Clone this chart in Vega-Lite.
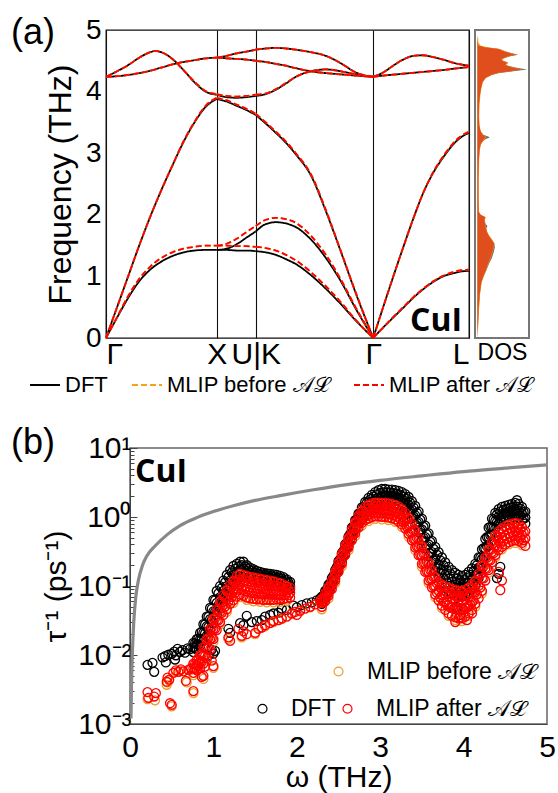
{
  "$schema": "https://vega.github.io/schema/vega-lite/v6.json",
  "padding": {"left": 10, "top": 14, "right": 4, "bottom": 2},
  "config": {
    "font": "Liberation Sans",
    "view": {"stroke": null},
    "axis": {"labelFont": "Liberation Sans", "titleFont": "Liberation Sans", "titleFontWeight": "normal", "labelColor": "#000", "titleColor": "#000", "domainColor": "#444", "tickColor": "#444", "grid": false},
    "legend": {"labelFont": "Liberation Sans", "labelColor": "#000", "labelLimit": 400}
  },
  "datasets": {
    "bands": [
      {"s":1,"r":"ta","k":0,"d":0,"b":0,"a":0},
      {"s":1,"r":"ta","k":0.1,"d":0.33,"b":0.34,"a":0.34},
      {"s":1,"r":"ta","k":0.2,"d":0.65,"b":0.68,"a":0.68},
      {"s":1,"r":"ta","k":0.3,"d":0.92,"b":0.96,"a":0.96},
      {"s":1,"r":"ta","k":0.4,"d":1.11,"b":1.16,"a":1.16},
      {"s":1,"r":"ta","k":0.5,"d":1.24,"b":1.3,"a":1.3},
      {"s":1,"r":"ta","k":0.6,"d":1.33,"b":1.39,"a":1.39},
      {"s":1,"r":"ta","k":0.7,"d":1.39,"b":1.45,"a":1.45},
      {"s":1,"r":"ta","k":0.8,"d":1.42,"b":1.48,"a":1.48},
      {"s":1,"r":"ta","k":0.9,"d":1.43,"b":1.5,"a":1.5},
      {"s":1,"r":"ta","k":1,"d":1.43,"b":1.5,"a":1.5},
      {"s":1,"r":"la","k":0,"d":0,"b":0,"a":0},
      {"s":1,"r":"la","k":0.1,"d":0.5,"b":0.5,"a":0.5},
      {"s":1,"r":"la","k":0.2,"d":1.0,"b":1.0,"a":1.0},
      {"s":1,"r":"la","k":0.3,"d":1.5,"b":1.5,"a":1.5},
      {"s":1,"r":"la","k":0.4,"d":1.97,"b":1.97,"a":1.97},
      {"s":1,"r":"la","k":0.5,"d":2.4,"b":2.4,"a":2.4},
      {"s":1,"r":"la","k":0.6,"d":2.8,"b":2.8,"a":2.8},
      {"s":1,"r":"la","k":0.7,"d":3.18,"b":3.19,"a":3.19},
      {"s":1,"r":"la","k":0.8,"d":3.5,"b":3.51,"a":3.51},
      {"s":1,"r":"la","k":0.9,"d":3.75,"b":3.77,"a":3.77},
      {"s":1,"r":"la","k":1,"d":3.88,"b":3.9,"a":3.9},
      {"s":1,"r":"to","k":0,"d":4.24,"b":4.24,"a":4.24},
      {"s":1,"r":"to","k":0.1,"d":4.25,"b":4.25,"a":4.25},
      {"s":1,"r":"to","k":0.2,"d":4.27,"b":4.27,"a":4.27},
      {"s":1,"r":"to","k":0.3,"d":4.3,"b":4.3,"a":4.3},
      {"s":1,"r":"to","k":0.4,"d":4.34,"b":4.34,"a":4.34},
      {"s":1,"r":"to","k":0.5,"d":4.39,"b":4.39,"a":4.39},
      {"s":1,"r":"to","k":0.6,"d":4.44,"b":4.44,"a":4.44},
      {"s":1,"r":"to","k":0.7,"d":4.48,"b":4.48,"a":4.48},
      {"s":1,"r":"to","k":0.8,"d":4.51,"b":4.51,"a":4.51},
      {"s":1,"r":"to","k":0.9,"d":4.54,"b":4.54,"a":4.54},
      {"s":1,"r":"to","k":1,"d":4.55,"b":4.55,"a":4.55},
      {"s":1,"r":"lo","k":0,"d":4.24,"b":4.24,"a":4.24},
      {"s":1,"r":"lo","k":0.1,"d":4.33,"b":4.33,"a":4.33},
      {"s":1,"r":"lo","k":0.2,"d":4.43,"b":4.43,"a":4.43},
      {"s":1,"r":"lo","k":0.3,"d":4.55,"b":4.55,"a":4.55},
      {"s":1,"r":"lo","k":0.4,"d":4.64,"b":4.64,"a":4.64},
      {"s":1,"r":"lo","k":0.45,"d":4.66,"b":4.66,"a":4.66},
      {"s":1,"r":"lo","k":0.5,"d":4.64,"b":4.64,"a":4.64},
      {"s":1,"r":"lo","k":0.6,"d":4.53,"b":4.53,"a":4.53},
      {"s":1,"r":"lo","k":0.7,"d":4.35,"b":4.35,"a":4.35},
      {"s":1,"r":"lo","k":0.8,"d":4.15,"b":4.16,"a":4.16},
      {"s":1,"r":"lo","k":0.9,"d":4.0,"b":4.01,"a":4.01},
      {"s":1,"r":"lo","k":1,"d":3.95,"b":3.96,"a":3.96},
      {"s":2,"r":"t1","k":1,"d":1.43,"b":1.5,"a":1.5},
      {"s":2,"r":"t1","k":1.09,"d":1.43,"b":1.5,"a":1.5},
      {"s":2,"r":"t1","k":1.18,"d":1.42,"b":1.49,"a":1.49},
      {"s":2,"r":"t1","k":1.27,"d":1.42,"b":1.49,"a":1.49},
      {"s":2,"r":"t1","k":1.354,"d":1.41,"b":1.48,"a":1.48},
      {"s":2,"r":"t2","k":1,"d":1.43,"b":1.5,"a":1.5},
      {"s":2,"r":"t2","k":1.09,"d":1.45,"b":1.53,"a":1.53},
      {"s":2,"r":"t2","k":1.18,"d":1.52,"b":1.61,"a":1.61},
      {"s":2,"r":"t2","k":1.27,"d":1.63,"b":1.72,"a":1.72},
      {"s":2,"r":"t2","k":1.354,"d":1.73,"b":1.82,"a":1.82},
      {"s":2,"r":"la","k":1,"d":3.88,"b":3.9,"a":3.9},
      {"s":2,"r":"la","k":1.09,"d":3.84,"b":3.86,"a":3.86},
      {"s":2,"r":"la","k":1.18,"d":3.77,"b":3.79,"a":3.79},
      {"s":2,"r":"la","k":1.27,"d":3.7,"b":3.72,"a":3.72},
      {"s":2,"r":"la","k":1.354,"d":3.62,"b":3.64,"a":3.64},
      {"s":2,"r":"lo","k":1,"d":3.95,"b":3.96,"a":3.96},
      {"s":2,"r":"lo","k":1.09,"d":3.91,"b":3.93,"a":3.93},
      {"s":2,"r":"lo","k":1.18,"d":3.9,"b":3.92,"a":3.92},
      {"s":2,"r":"lo","k":1.27,"d":3.91,"b":3.93,"a":3.93},
      {"s":2,"r":"lo","k":1.354,"d":3.93,"b":3.95,"a":3.95},
      {"s":2,"r":"o1","k":1,"d":4.55,"b":4.55,"a":4.55},
      {"s":2,"r":"o1","k":1.09,"d":4.54,"b":4.54,"a":4.54},
      {"s":2,"r":"o1","k":1.18,"d":4.53,"b":4.53,"a":4.53},
      {"s":2,"r":"o1","k":1.27,"d":4.52,"b":4.52,"a":4.52},
      {"s":2,"r":"o1","k":1.354,"d":4.5,"b":4.5,"a":4.5},
      {"s":2,"r":"o2","k":1,"d":4.55,"b":4.55,"a":4.55},
      {"s":2,"r":"o2","k":1.09,"d":4.58,"b":4.58,"a":4.58},
      {"s":2,"r":"o2","k":1.18,"d":4.62,"b":4.62,"a":4.62},
      {"s":2,"r":"o2","k":1.27,"d":4.65,"b":4.65,"a":4.65},
      {"s":2,"r":"o2","k":1.354,"d":4.68,"b":4.68,"a":4.68},
      {"s":3,"r":"t2","k":1.354,"d":1.73,"b":1.82,"a":1.82},
      {"s":3,"r":"t2","k":1.445,"d":1.85,"b":1.92,"a":1.92},
      {"s":3,"r":"t2","k":1.535,"d":1.88,"b":1.95,"a":1.95},
      {"s":3,"r":"t2","k":1.626,"d":1.86,"b":1.93,"a":1.93},
      {"s":3,"r":"t2","k":1.716,"d":1.8,"b":1.87,"a":1.87},
      {"s":3,"r":"t2","k":1.852,"d":1.6,"b":1.66,"a":1.66},
      {"s":3,"r":"t2","k":1.987,"d":1.3,"b":1.35,"a":1.35},
      {"s":3,"r":"t2","k":2.123,"d":0.92,"b":0.95,"a":0.95},
      {"s":3,"r":"t2","k":2.259,"d":0.47,"b":0.49,"a":0.49},
      {"s":3,"r":"t2","k":2.415,"d":0,"b":0,"a":0},
      {"s":3,"r":"t1","k":1.354,"d":1.41,"b":1.48,"a":1.48},
      {"s":3,"r":"t1","k":1.445,"d":1.39,"b":1.46,"a":1.46},
      {"s":3,"r":"t1","k":1.535,"d":1.35,"b":1.42,"a":1.42},
      {"s":3,"r":"t1","k":1.626,"d":1.28,"b":1.35,"a":1.35},
      {"s":3,"r":"t1","k":1.716,"d":1.2,"b":1.26,"a":1.26},
      {"s":3,"r":"t1","k":1.852,"d":1.02,"b":1.07,"a":1.07},
      {"s":3,"r":"t1","k":1.987,"d":0.8,"b":0.84,"a":0.84},
      {"s":3,"r":"t1","k":2.123,"d":0.55,"b":0.58,"a":0.58},
      {"s":3,"r":"t1","k":2.259,"d":0.28,"b":0.29,"a":0.29},
      {"s":3,"r":"t1","k":2.415,"d":0,"b":0,"a":0},
      {"s":3,"r":"la","k":1.354,"d":3.62,"b":3.64,"a":3.64},
      {"s":3,"r":"la","k":1.445,"d":3.48,"b":3.5,"a":3.5},
      {"s":3,"r":"la","k":1.535,"d":3.33,"b":3.35,"a":3.35},
      {"s":3,"r":"la","k":1.626,"d":3.17,"b":3.19,"a":3.19},
      {"s":3,"r":"la","k":1.716,"d":2.98,"b":3.0,"a":3.0},
      {"s":3,"r":"la","k":1.852,"d":2.64,"b":2.66,"a":2.66},
      {"s":3,"r":"la","k":1.987,"d":2.06,"b":2.08,"a":2.08},
      {"s":3,"r":"la","k":2.123,"d":1.4,"b":1.41,"a":1.41},
      {"s":3,"r":"la","k":2.259,"d":0.72,"b":0.73,"a":0.73},
      {"s":3,"r":"la","k":2.415,"d":0,"b":0,"a":0},
      {"s":3,"r":"lo","k":1.354,"d":3.93,"b":3.95,"a":3.95},
      {"s":3,"r":"lo","k":1.445,"d":3.96,"b":3.97,"a":3.97},
      {"s":3,"r":"lo","k":1.535,"d":4.03,"b":4.04,"a":4.04},
      {"s":3,"r":"lo","k":1.626,"d":4.13,"b":4.14,"a":4.14},
      {"s":3,"r":"lo","k":1.716,"d":4.24,"b":4.24,"a":4.24},
      {"s":3,"r":"lo","k":1.852,"d":4.33,"b":4.33,"a":4.33},
      {"s":3,"r":"lo","k":1.987,"d":4.36,"b":4.36,"a":4.36},
      {"s":3,"r":"lo","k":2.123,"d":4.33,"b":4.33,"a":4.33},
      {"s":3,"r":"lo","k":2.259,"d":4.28,"b":4.28,"a":4.28},
      {"s":3,"r":"lo","k":2.415,"d":4.24,"b":4.24,"a":4.24},
      {"s":3,"r":"o1","k":1.354,"d":4.5,"b":4.5,"a":4.5},
      {"s":3,"r":"o1","k":1.445,"d":4.48,"b":4.48,"a":4.48},
      {"s":3,"r":"o1","k":1.535,"d":4.45,"b":4.45,"a":4.45},
      {"s":3,"r":"o1","k":1.626,"d":4.42,"b":4.42,"a":4.42},
      {"s":3,"r":"o1","k":1.716,"d":4.38,"b":4.38,"a":4.38},
      {"s":3,"r":"o1","k":1.852,"d":4.33,"b":4.33,"a":4.33},
      {"s":3,"r":"o1","k":1.987,"d":4.3,"b":4.3,"a":4.3},
      {"s":3,"r":"o1","k":2.123,"d":4.28,"b":4.28,"a":4.28},
      {"s":3,"r":"o1","k":2.259,"d":4.26,"b":4.26,"a":4.26},
      {"s":3,"r":"o1","k":2.415,"d":4.24,"b":4.24,"a":4.24},
      {"s":3,"r":"o2","k":1.354,"d":4.68,"b":4.68,"a":4.68},
      {"s":3,"r":"o2","k":1.445,"d":4.7,"b":4.7,"a":4.7},
      {"s":3,"r":"o2","k":1.535,"d":4.71,"b":4.71,"a":4.71},
      {"s":3,"r":"o2","k":1.626,"d":4.7,"b":4.7,"a":4.7},
      {"s":3,"r":"o2","k":1.716,"d":4.68,"b":4.68,"a":4.68},
      {"s":3,"r":"o2","k":1.852,"d":4.64,"b":4.64,"a":4.64},
      {"s":3,"r":"o2","k":1.987,"d":4.58,"b":4.58,"a":4.58},
      {"s":3,"r":"o2","k":2.123,"d":4.46,"b":4.46,"a":4.46},
      {"s":3,"r":"o2","k":2.259,"d":4.31,"b":4.31,"a":4.31},
      {"s":3,"r":"o2","k":2.415,"d":4.24,"b":4.24,"a":4.24},
      {"s":4,"r":"ta","k":2.415,"d":0,"b":0,"a":0},
      {"s":4,"r":"ta","k":2.505,"d":0.17,"b":0.17,"a":0.17},
      {"s":4,"r":"ta","k":2.595,"d":0.33,"b":0.34,"a":0.34},
      {"s":4,"r":"ta","k":2.686,"d":0.49,"b":0.5,"a":0.5},
      {"s":4,"r":"ta","k":2.776,"d":0.65,"b":0.66,"a":0.66},
      {"s":4,"r":"ta","k":2.866,"d":0.79,"b":0.8,"a":0.8},
      {"s":4,"r":"ta","k":2.957,"d":0.91,"b":0.92,"a":0.92},
      {"s":4,"r":"ta","k":3.047,"d":1.0,"b":1.01,"a":1.01},
      {"s":4,"r":"ta","k":3.137,"d":1.05,"b":1.07,"a":1.07},
      {"s":4,"r":"ta","k":3.21,"d":1.08,"b":1.1,"a":1.1},
      {"s":4,"r":"ta","k":3.281,"d":1.09,"b":1.11,"a":1.11},
      {"s":4,"r":"la","k":2.415,"d":0,"b":0,"a":0},
      {"s":4,"r":"la","k":2.505,"d":0.5,"b":0.5,"a":0.5},
      {"s":4,"r":"la","k":2.595,"d":0.99,"b":0.99,"a":0.99},
      {"s":4,"r":"la","k":2.686,"d":1.47,"b":1.47,"a":1.47},
      {"s":4,"r":"la","k":2.776,"d":1.93,"b":1.93,"a":1.93},
      {"s":4,"r":"la","k":2.866,"d":2.35,"b":2.35,"a":2.35},
      {"s":4,"r":"la","k":2.957,"d":2.68,"b":2.69,"a":2.69},
      {"s":4,"r":"la","k":3.047,"d":2.93,"b":2.95,"a":2.95},
      {"s":4,"r":"la","k":3.137,"d":3.14,"b":3.16,"a":3.16},
      {"s":4,"r":"la","k":3.21,"d":3.26,"b":3.28,"a":3.28},
      {"s":4,"r":"la","k":3.281,"d":3.33,"b":3.35,"a":3.35},
      {"s":4,"r":"to","k":2.415,"d":4.24,"b":4.24,"a":4.24},
      {"s":4,"r":"to","k":2.505,"d":4.26,"b":4.26,"a":4.26},
      {"s":4,"r":"to","k":2.595,"d":4.275,"b":4.275,"a":4.275},
      {"s":4,"r":"to","k":2.686,"d":4.29,"b":4.29,"a":4.29},
      {"s":4,"r":"to","k":2.776,"d":4.305,"b":4.305,"a":4.305},
      {"s":4,"r":"to","k":2.866,"d":4.32,"b":4.32,"a":4.32},
      {"s":4,"r":"to","k":2.957,"d":4.335,"b":4.335,"a":4.335},
      {"s":4,"r":"to","k":3.047,"d":4.35,"b":4.35,"a":4.35},
      {"s":4,"r":"to","k":3.137,"d":4.37,"b":4.37,"a":4.37},
      {"s":4,"r":"to","k":3.21,"d":4.385,"b":4.385,"a":4.385},
      {"s":4,"r":"to","k":3.281,"d":4.4,"b":4.4,"a":4.4},
      {"s":4,"r":"lo","k":2.415,"d":4.24,"b":4.24,"a":4.24},
      {"s":4,"r":"lo","k":2.505,"d":4.31,"b":4.31,"a":4.31},
      {"s":4,"r":"lo","k":2.595,"d":4.42,"b":4.42,"a":4.42},
      {"s":4,"r":"lo","k":2.686,"d":4.52,"b":4.52,"a":4.52},
      {"s":4,"r":"lo","k":2.776,"d":4.58,"b":4.58,"a":4.58},
      {"s":4,"r":"lo","k":2.866,"d":4.59,"b":4.59,"a":4.59},
      {"s":4,"r":"lo","k":2.957,"d":4.56,"b":4.56,"a":4.56},
      {"s":4,"r":"lo","k":3.047,"d":4.52,"b":4.52,"a":4.52},
      {"s":4,"r":"lo","k":3.137,"d":4.47,"b":4.47,"a":4.47},
      {"s":4,"r":"lo","k":3.21,"d":4.44,"b":4.44,"a":4.44},
      {"s":4,"r":"lo","k":3.281,"d":4.42,"b":4.42,"a":4.42}
    ],
    "dos": [
      {"f":0,"d":0,"b":0,"a":0},{"f":0.2,"d":0.5,"b":0.9,"a":0.4},{"f":0.45,"d":1.3,"b":1.6,"a":1.1},{"f":0.7,"d":2.3,"b":2.5,"a":2.1},
      {"f":0.9,"d":4,"b":4.2,"a":3.8},{"f":1.0,"d":6.2,"b":6.2,"a":5.8},{"f":1.1,"d":9,"b":8.8,"a":8.4},{"f":1.2,"d":11.5,"b":11,"a":10.5},
      {"f":1.3,"d":14.5,"b":13.5,"a":13},{"f":1.4,"d":16.5,"b":15.5,"a":15},{"f":1.47,"d":17.5,"b":16.8,"a":16.3},{"f":1.54,"d":17,"b":17,"a":16.6},
      {"f":1.6,"d":14,"b":15,"a":14},{"f":1.66,"d":11,"b":12,"a":11.5},{"f":1.72,"d":9.5,"b":10,"a":9.6},{"f":1.78,"d":9,"b":8.8,"a":8.3},
      {"f":1.82,"d":10,"b":8.6,"a":8},{"f":1.86,"d":8,"b":8,"a":7.5},{"f":1.92,"d":7,"b":7.4,"a":7},{"f":1.96,"d":7.5,"b":8.4,"a":8},
      {"f":2.0,"d":3,"b":3.5,"a":3},{"f":2.05,"d":1.2,"b":1.6,"a":1.2},{"f":2.3,"d":0.9,"b":1.4,"a":0.9},{"f":2.6,"d":0.9,"b":1.4,"a":0.9},
      {"f":2.9,"d":1.4,"b":1.8,"a":1.4},{"f":3.05,"d":2,"b":2.4,"a":2},{"f":3.15,"d":3.5,"b":3.6,"a":3.2},{"f":3.22,"d":7,"b":6.5,"a":6},
      {"f":3.26,"d":12.5,"b":9.5,"a":8.5},{"f":3.3,"d":6,"b":5.5,"a":5},{"f":3.36,"d":3,"b":3.3,"a":3},{"f":3.45,"d":1.8,"b":2.2,"a":1.8},
      {"f":3.6,"d":1.3,"b":1.8,"a":1.3},{"f":3.8,"d":1.6,"b":2.2,"a":1.6},{"f":3.95,"d":2.5,"b":3,"a":2.5},{"f":4.05,"d":3.5,"b":4,"a":3.5},
      {"f":4.15,"d":5,"b":5.5,"a":5},{"f":4.22,"d":8,"b":8.5,"a":8},{"f":4.27,"d":14,"b":14.5,"a":14},{"f":4.3,"d":22,"b":21,"a":20},
      {"f":4.33,"d":36,"b":34,"a":33},{"f":4.36,"d":50,"b":46,"a":45},{"f":4.39,"d":38,"b":36,"a":35},{"f":4.43,"d":28,"b":29,"a":28},
      {"f":4.47,"d":31,"b":31,"a":30},{"f":4.5,"d":26,"b":26,"a":25},{"f":4.53,"d":25,"b":25,"a":24},{"f":4.57,"d":32,"b":31,"a":30},
      {"f":4.6,"d":41,"b":40,"a":39},{"f":4.63,"d":33,"b":32,"a":31},{"f":4.66,"d":27,"b":27,"a":26},{"f":4.69,"d":22,"b":23,"a":21},
      {"f":4.72,"d":8,"b":10,"a":7},{"f":4.75,"d":1,"b":3,"a":0.8},{"f":4.8,"d":0.5,"b":1,"a":0.3},{"f":4.9,"d":0,"b":0.5,"a":0}
    ],
    "ref": [
      {"w":0.012,"t":0.0012},{"w":0.02,"t":0.005},{"w":0.03,"t":0.012},{"w":0.045,"t":0.03},{"w":0.07,"t":0.07},{"w":0.1,"t":0.12},
      {"w":0.15,"t":0.2},{"w":0.2,"t":0.27},{"w":0.3,"t":0.38},{"w":0.45,"t":0.56},{"w":0.6,"t":0.75},{"w":0.8,"t":0.98},
      {"w":1.0,"t":1.2},{"w":1.25,"t":1.47},{"w":1.5,"t":1.74},{"w":1.8,"t":2.04},{"w":2.2,"t":2.48},
      {"w":2.6,"t":2.95},{"w":3.0,"t":3.4},{"w":3.5,"t":3.95},{"w":4.0,"t":4.55},{"w":4.5,"t":5.1},{"w":5.0,"t":5.7}
    ],
    "dft": [
      {"w":0.21,"t":0.0072},{"w":0.27,"t":0.0077},{"w":0.29,"t":0.0057},{"w":0.39,"t":0.0092},{"w":0.42,"t":0.0096},{"w":0.43,"t":0.0078},
      {"w":0.46,"t":0.0101},{"w":0.5,"t":0.0104},{"w":0.53,"t":0.0112},{"w":0.54,"t":0.0086},{"w":0.55,"t":0.0099},{"w":0.57,"t":0.0123},
      {"w":0.6,"t":0.0111},{"w":0.63,"t":0.0118},{"w":0.66,"t":0.0108},{"w":0.69,"t":0.0125},{"w":0.72,"t":0.0122},
      {"w":0.76,"t":0.015},{"w":0.76,"t":0.013},{"w":0.76,"t":0.011},{"w":0.78,"t":0.0148},{"w":0.78,"t":0.0126},
      {"w":0.8,"t":0.017},{"w":0.8,"t":0.0143},{"w":0.8,"t":0.012},{"w":0.82,"t":0.0173},{"w":0.82,"t":0.0142},
      {"w":0.84,"t":0.021},{"w":0.84,"t":0.017},{"w":0.84,"t":0.0135},{"w":0.86,"t":0.0218},{"w":0.86,"t":0.0169},
      {"w":0.88,"t":0.028},{"w":0.88,"t":0.021},{"w":0.88,"t":0.016},{"w":0.9,"t":0.0278},{"w":0.9,"t":0.0205},
      {"w":0.92,"t":0.036},{"w":0.92,"t":0.026},{"w":0.92,"t":0.019},{"w":0.94,"t":0.0357},{"w":0.94,"t":0.0253},
      {"w":0.96,"t":0.048},{"w":0.96,"t":0.033},{"w":0.96,"t":0.023},{"w":0.98,"t":0.0468},{"w":0.98,"t":0.032},
      {"w":1.0,"t":0.063},{"w":1.0,"t":0.043},{"w":1.0,"t":0.029},{"w":1.02,"t":0.062},{"w":1.02,"t":0.042},
      {"w":1.04,"t":0.085},{"w":1.04,"t":0.057},{"w":1.04,"t":0.038},{"w":1.06,"t":0.078},{"w":1.06,"t":0.053},
      {"w":1.08,"t":0.1},{"w":1.08,"t":0.069},{"w":1.08,"t":0.048},{"w":1.1,"t":0.0935},{"w":1.1,"t":0.0655},
      {"w":1.12,"t":0.12},{"w":1.12,"t":0.085},{"w":1.12,"t":0.06},{"w":1.14,"t":0.1125},{"w":1.14,"t":0.079},
      {"w":1.16,"t":0.145},{"w":1.16,"t":0.1},{"w":1.16,"t":0.072},{"w":1.18,"t":0.134},{"w":1.18,"t":0.095},
      {"w":1.2,"t":0.17},{"w":1.2,"t":0.12},{"w":1.2,"t":0.088},{"w":1.22,"t":0.157},{"w":1.22,"t":0.114},
      {"w":1.24,"t":0.195},{"w":1.24,"t":0.143},{"w":1.24,"t":0.105},{"w":1.26,"t":0.177},{"w":1.26,"t":0.132},
      {"w":1.28,"t":0.21},{"w":1.28,"t":0.16},{"w":1.28,"t":0.12},{"w":1.3,"t":0.1925},{"w":1.3,"t":0.1475},
      {"w":1.32,"t":0.225},{"w":1.32,"t":0.175},{"w":1.32,"t":0.135},{"w":1.34,"t":0.2},{"w":1.34,"t":0.157},
      {"w":1.36,"t":0.225},{"w":1.36,"t":0.178},{"w":1.36,"t":0.14},{"w":1.38,"t":0.192},{"w":1.38,"t":0.1545},
      {"w":1.4,"t":0.2},{"w":1.4,"t":0.165},{"w":1.4,"t":0.135},{"w":1.42,"t":0.176},{"w":1.42,"t":0.146},
      {"w":1.44,"t":0.185},{"w":1.44,"t":0.155},{"w":1.44,"t":0.13},{"w":1.46,"t":0.166},{"w":1.46,"t":0.1395},
      {"w":1.48,"t":0.175},{"w":1.48,"t":0.148},{"w":1.48,"t":0.125},{"w":1.5,"t":0.157},{"w":1.5,"t":0.133},
      {"w":1.52,"t":0.165},{"w":1.52,"t":0.14},{"w":1.52,"t":0.12},{"w":1.54,"t":0.151},{"w":1.54,"t":0.1295},
      {"w":1.56,"t":0.16},{"w":1.56,"t":0.138},{"w":1.56,"t":0.12},{"w":1.58,"t":0.147},{"w":1.58,"t":0.128},
      {"w":1.6,"t":0.155},{"w":1.6,"t":0.135},{"w":1.6,"t":0.118},{"w":1.62,"t":0.1435},{"w":1.62,"t":0.125},
      {"w":1.64,"t":0.152},{"w":1.64,"t":0.132},{"w":1.64,"t":0.115},{"w":1.66,"t":0.141},{"w":1.66,"t":0.1225},
      {"w":1.68,"t":0.15},{"w":1.68,"t":0.13},{"w":1.68,"t":0.113},{"w":1.7,"t":0.139},{"w":1.7,"t":0.12},
      {"w":1.72,"t":0.148},{"w":1.72,"t":0.128},{"w":1.72,"t":0.11},{"w":1.74,"t":0.137},{"w":1.74,"t":0.1185},
      {"w":1.76,"t":0.145},{"w":1.76,"t":0.126},{"w":1.76,"t":0.11},{"w":1.78,"t":0.133},{"w":1.78,"t":0.115},
      {"w":1.8,"t":0.14},{"w":1.8,"t":0.12},{"w":1.8,"t":0.105},{"w":1.82,"t":0.128},{"w":1.82,"t":0.11},
      {"w":1.84,"t":0.135},{"w":1.84,"t":0.116},{"w":1.84,"t":0.1},{"w":1.86,"t":0.1215},{"w":1.86,"t":0.105},
      {"w":1.88,"t":0.125},{"w":1.88,"t":0.11},{"w":1.88,"t":0.095},{"w":1.9,"t":0.1125},{"w":1.9,"t":0.099},
      {"w":1.92,"t":0.115},{"w":1.92,"t":0.1},{"w":1.92,"t":0.09},
      {"w":0.94,"t":0.0098},{"w":0.98,"t":0.012},{"w":1.0,"t":0.0105},{"w":1.02,"t":0.0115},{"w":1.18,"t":0.024},{"w":1.2,"t":0.021},
      {"w":1.32,"t":0.029},{"w":1.36,"t":0.027},{"w":1.4,"t":0.037},{"w":1.46,"t":0.03},{"w":1.52,"t":0.031},{"w":1.58,"t":0.032},
      {"w":1.62,"t":0.036},{"w":1.68,"t":0.038},{"w":1.72,"t":0.04},{"w":1.78,"t":0.041},{"w":1.82,"t":0.047},{"w":1.88,"t":0.045},
      {"w":1.96,"t":0.052},{"w":2.0,"t":0.049},{"w":2.06,"t":0.053},{"w":2.12,"t":0.056},{"w":2.18,"t":0.058},{"w":2.24,"t":0.062},{"w":2.28,"t":0.066},
      {"w":2.3,"t":0.07},{"w":2.3,"t":0.062},{"w":2.3,"t":0.055},{"w":2.32,"t":0.0728},{"w":2.32,"t":0.064},
      {"w":2.34,"t":0.085},{"w":2.34,"t":0.074},{"w":2.34,"t":0.065},{"w":2.36,"t":0.089},{"w":2.36,"t":0.0778},
      {"w":2.38,"t":0.105},{"w":2.38,"t":0.092},{"w":2.38,"t":0.08},{"w":2.4,"t":0.11},{"w":2.4,"t":0.0965},
      {"w":2.42,"t":0.13},{"w":2.42,"t":0.114},{"w":2.42,"t":0.1},{"w":2.44,"t":0.141},{"w":2.44,"t":0.123},
      {"w":2.46,"t":0.17},{"w":2.46,"t":0.149},{"w":2.46,"t":0.13},{"w":2.48,"t":0.187},{"w":2.48,"t":0.162},
      {"w":2.5,"t":0.23},{"w":2.5,"t":0.198},{"w":2.5,"t":0.17},{"w":2.52,"t":0.246},{"w":2.52,"t":0.211},
      {"w":2.54,"t":0.3},{"w":2.54,"t":0.257},{"w":2.54,"t":0.22},{"w":2.56,"t":0.324},{"w":2.56,"t":0.277},
      {"w":2.58,"t":0.4},{"w":2.58,"t":0.34},{"w":2.58,"t":0.29},{"w":2.6,"t":0.426},{"w":2.6,"t":0.364},
      {"w":2.62,"t":0.52},{"w":2.62,"t":0.445},{"w":2.62,"t":0.38},{"w":2.64,"t":0.564},{"w":2.64,"t":0.479},
      {"w":2.66,"t":0.7},{"w":2.66,"t":0.59},{"w":2.66,"t":0.5},{"w":2.68,"t":0.739},{"w":2.68,"t":0.626},
      {"w":2.7,"t":0.9},{"w":2.7,"t":0.765},{"w":2.7,"t":0.65},{"w":2.72,"t":0.934},{"w":2.72,"t":0.791},
      {"w":2.74,"t":1.12},{"w":2.74,"t":0.95},{"w":2.74,"t":0.8},{"w":2.76,"t":1.149},{"w":2.76,"t":0.961},
      {"w":2.78,"t":1.38},{"w":2.78,"t":1.145},{"w":2.78,"t":0.95},{"w":2.8,"t":1.381},{"w":2.8,"t":1.136},
      {"w":2.82,"t":1.65},{"w":2.82,"t":1.35},{"w":2.82,"t":1.1},{"w":2.84,"t":1.61},{"w":2.84,"t":1.31},
      {"w":2.86,"t":1.9},{"w":2.86,"t":1.54},{"w":2.86,"t":1.25},{"w":2.88,"t":1.805},{"w":2.88,"t":1.455},
      {"w":2.9,"t":2.1},{"w":2.9,"t":1.68},{"w":2.9,"t":1.35},{"w":2.92,"t":1.978},{"w":2.92,"t":1.578},
      {"w":2.94,"t":2.3},{"w":2.94,"t":1.83},{"w":2.94,"t":1.45},{"w":2.96,"t":2.125},{"w":2.96,"t":1.675},
      {"w":2.98,"t":2.45},{"w":2.98,"t":1.92},{"w":2.98,"t":1.5},{"w":3.0,"t":2.228},{"w":3.0,"t":1.74},
      {"w":3.02,"t":2.55},{"w":3.02,"t":1.99},{"w":3.02,"t":1.55},{"w":3.04,"t":2.278},{"w":3.04,"t":1.79},
      {"w":3.06,"t":2.55},{"w":3.06,"t":2.02},{"w":3.06,"t":1.6},{"w":3.08,"t":2.268},{"w":3.08,"t":1.805},
      {"w":3.1,"t":2.5},{"w":3.1,"t":2.0},{"w":3.1,"t":1.6},{"w":3.12,"t":2.25},{"w":3.12,"t":1.8},
      {"w":3.14,"t":2.5},{"w":3.14,"t":2.0},{"w":3.14,"t":1.6},{"w":3.16,"t":2.225},{"w":3.16,"t":1.775},
      {"w":3.18,"t":2.45},{"w":3.18,"t":1.95},{"w":3.18,"t":1.55},{"w":3.2,"t":2.175},{"w":3.2,"t":1.725},
      {"w":3.22,"t":2.4},{"w":3.22,"t":1.9},{"w":3.22,"t":1.5},{"w":3.24,"t":2.108},{"w":3.24,"t":1.67},
      {"w":3.26,"t":2.3},{"w":3.26,"t":1.83},{"w":3.26,"t":1.45},{"w":3.28,"t":1.995},{"w":3.28,"t":1.583},
      {"w":3.3,"t":2.15},{"w":3.3,"t":1.7},{"w":3.3,"t":1.35},{"w":3.32,"t":1.825},{"w":3.32,"t":1.425},
      {"w":3.34,"t":1.95},{"w":3.34,"t":1.5},{"w":3.34,"t":1.15},{"w":3.36,"t":1.608},{"w":3.36,"t":1.223},
      {"w":3.38,"t":1.7},{"w":3.38,"t":1.28},{"w":3.38,"t":0.96},{"w":3.4,"t":1.373},{"w":3.4,"t":1.018},
      {"w":3.42,"t":1.45},{"w":3.42,"t":1.06},{"w":3.42,"t":0.77},{"w":3.44,"t":1.14},{"w":3.44,"t":0.82},
      {"w":3.46,"t":1.2},{"w":3.46,"t":0.85},{"w":3.46,"t":0.6},{"w":3.48,"t":0.915},{"w":3.48,"t":0.643},
      {"w":3.5,"t":0.95},{"w":3.5,"t":0.66},{"w":3.5,"t":0.46},{"w":3.52,"t":0.718},{"w":3.52,"t":0.495},
      {"w":3.54,"t":0.75},{"w":3.54,"t":0.51},{"w":3.54,"t":0.35},{"w":3.56,"t":0.56},{"w":3.56,"t":0.383},
      {"w":3.58,"t":0.58},{"w":3.58,"t":0.4},{"w":3.58,"t":0.27},{"w":3.6,"t":0.435},{"w":3.6,"t":0.298},
      {"w":3.62,"t":0.45},{"w":3.62,"t":0.31},{"w":3.62,"t":0.21},{"w":3.64,"t":0.345},{"w":3.64,"t":0.234},
      {"w":3.66,"t":0.37},{"w":3.66,"t":0.25},{"w":3.66,"t":0.165},{"w":3.68,"t":0.284},{"w":3.68,"t":0.189},
      {"w":3.7,"t":0.31},{"w":3.7,"t":0.205},{"w":3.7,"t":0.135},{"w":3.72,"t":0.236},{"w":3.72,"t":0.155},
      {"w":3.74,"t":0.26},{"w":3.74,"t":0.17},{"w":3.74,"t":0.11},{"w":3.76,"t":0.199},{"w":3.76,"t":0.13},
      {"w":3.78,"t":0.22},{"w":3.78,"t":0.145},{"w":3.78,"t":0.095},{"w":3.8,"t":0.171},{"w":3.8,"t":0.113},
      {"w":3.82,"t":0.19},{"w":3.82,"t":0.127},{"w":3.82,"t":0.085},{"w":3.84,"t":0.151},{"w":3.84,"t":0.101},
      {"w":3.86,"t":0.17},{"w":3.86,"t":0.115},{"w":3.86,"t":0.078},{"w":3.88,"t":0.137},{"w":3.88,"t":0.093},
      {"w":3.9,"t":0.155},{"w":3.9,"t":0.106},{"w":3.9,"t":0.073},{"w":3.92,"t":0.127},{"w":3.92,"t":0.087},
      {"w":3.94,"t":0.145},{"w":3.94,"t":0.1},{"w":3.94,"t":0.07},{"w":3.96,"t":0.121},{"w":3.96,"t":0.085},
      {"w":3.98,"t":0.14},{"w":3.98,"t":0.099},{"w":3.98,"t":0.07},{"w":4.0,"t":0.122},{"w":4.0,"t":0.086},
      {"w":4.02,"t":0.145},{"w":4.02,"t":0.102},{"w":4.02,"t":0.072},{"w":4.04,"t":0.13},{"w":4.04,"t":0.091},
      {"w":4.06,"t":0.16},{"w":4.06,"t":0.112},{"w":4.06,"t":0.078},{"w":4.08,"t":0.145},{"w":4.08,"t":0.101},
      {"w":4.1,"t":0.18},{"w":4.1,"t":0.126},{"w":4.1,"t":0.088},{"w":4.12,"t":0.165},{"w":4.12,"t":0.115},
      {"w":4.14,"t":0.21},{"w":4.14,"t":0.145},{"w":4.14,"t":0.1},{"w":4.16,"t":0.2},{"w":4.16,"t":0.14},
      {"w":4.18,"t":0.26},{"w":4.18,"t":0.184},{"w":4.18,"t":0.13},{"w":4.2,"t":0.258},{"w":4.2,"t":0.185},
      {"w":4.22,"t":0.34},{"w":4.22,"t":0.247},{"w":4.22,"t":0.18},{"w":4.24,"t":0.355},{"w":4.24,"t":0.26},
      {"w":4.26,"t":0.48},{"w":4.26,"t":0.353},{"w":4.26,"t":0.26},{"w":4.28,"t":0.512},{"w":4.28,"t":0.377},
      {"w":4.3,"t":0.7},{"w":4.3,"t":0.516},{"w":4.3,"t":0.38},{"w":4.32,"t":0.722},{"w":4.32,"t":0.542},
      {"w":4.34,"t":0.95},{"w":4.34,"t":0.72},{"w":4.34,"t":0.55},{"w":4.36,"t":0.925},{"w":4.36,"t":0.708},
      {"w":4.38,"t":1.15},{"w":4.38,"t":0.88},{"w":4.38,"t":0.68},{"w":4.4,"t":1.088},{"w":4.4,"t":0.845},
      {"w":4.42,"t":1.3},{"w":4.42,"t":1.02},{"w":4.42,"t":0.8},{"w":4.44,"t":1.208},{"w":4.44,"t":0.953},
      {"w":4.46,"t":1.4},{"w":4.46,"t":1.11},{"w":4.46,"t":0.88},{"w":4.48,"t":1.278},{"w":4.48,"t":1.015},
      {"w":4.5,"t":1.45},{"w":4.5,"t":1.15},{"w":4.5,"t":0.92},{"w":4.52,"t":1.323},{"w":4.52,"t":1.053},
      {"w":4.54,"t":1.5},{"w":4.54,"t":1.19},{"w":4.54,"t":0.95},{"w":4.56,"t":1.368},{"w":4.56,"t":1.088},
      {"w":4.58,"t":1.55},{"w":4.58,"t":1.23},{"w":4.58,"t":0.98},{"w":4.6,"t":1.41},{"w":4.6,"t":1.118},
      {"w":4.62,"t":1.6},{"w":4.62,"t":1.26},{"w":4.62,"t":1.0},{"w":4.64,"t":1.41},{"w":4.64,"t":1.118},
      {"w":4.66,"t":1.55},{"w":4.66,"t":1.23},{"w":4.66,"t":0.98},{"w":4.68,"t":1.325},{"w":4.68,"t":1.058},
      {"w":4.7,"t":1.4},{"w":4.7,"t":1.12},{"w":4.7,"t":0.9},{"w":4.72,"t":1.175},{"w":4.72,"t":0.95},
      {"w":4.74,"t":1.2},{"w":4.74,"t":0.98},{"w":4.74,"t":0.8},
      {"w":3.92,"t":0.05},{"w":3.96,"t":0.038},{"w":4.0,"t":0.045},{"w":4.4,"t":0.13},{"w":4.42,"t":0.15},{"w":4.44,"t":0.19},{"w":4.64,"t":1.75}
    ],
    "bef": [
      {"w":0.21,"t":0.0023},{"w":0.3,"t":0.0022},{"w":0.44,"t":0.0037},{"w":0.45,"t":0.004},{"w":0.5,"t":0.0018},{"w":0.47,"t":0.0043},
      {"w":0.55,"t":0.0057},{"w":0.68,"t":0.004},{"w":0.76,"t":0.0028},{"w":0.88,"t":0.0045},{"w":1.0,"t":0.0065},{"w":0.6,"t":0.0059},{"w":0.72,"t":0.006},
      {"w":0.76,"t":0.0074},{"w":0.76,"t":0.0051},{"w":0.84,"t":0.0098},{"w":0.84,"t":0.006},{"w":0.92,"t":0.0167},{"w":0.92,"t":0.0083},
      {"w":1.0,"t":0.033},{"w":1.0,"t":0.0156},{"w":1.08,"t":0.059},{"w":1.08,"t":0.028},{"w":1.16,"t":0.086},{"w":1.16,"t":0.042},
      {"w":1.24,"t":0.118},{"w":1.24,"t":0.057},{"w":1.32,"t":0.147},{"w":1.32,"t":0.069},{"w":1.4,"t":0.137},{"w":1.4,"t":0.063},
      {"w":1.48,"t":0.13},{"w":1.48,"t":0.06},{"w":1.56,"t":0.125},{"w":1.56,"t":0.059},{"w":1.64,"t":0.12},{"w":1.64,"t":0.058},
      {"w":1.72,"t":0.115},{"w":1.72,"t":0.058},{"w":1.8,"t":0.108},{"w":1.8,"t":0.059},{"w":1.88,"t":0.098},{"w":1.88,"t":0.061},
      {"w":1.18,"t":0.017},{"w":1.34,"t":0.018},{"w":1.5,"t":0.02},{"w":1.62,"t":0.026},{"w":1.72,"t":0.03},{"w":1.82,"t":0.033},
      {"w":1.94,"t":0.039},{"w":2.04,"t":0.043},{"w":2.16,"t":0.049},{"w":2.28,"t":0.058},
      {"w":2.3,"t":0.064},{"w":2.3,"t":0.046},{"w":2.38,"t":0.093},{"w":2.38,"t":0.066},{"w":2.46,"t":0.157},{"w":2.46,"t":0.11},
      {"w":2.54,"t":0.284},{"w":2.54,"t":0.193},{"w":2.62,"t":0.49},{"w":2.62,"t":0.33},{"w":2.7,"t":0.83},{"w":2.7,"t":0.53},
      {"w":2.78,"t":1.22},{"w":2.78,"t":0.75},{"w":2.86,"t":1.47},{"w":2.86,"t":0.87},{"w":2.94,"t":1.59},{"w":2.94,"t":0.94},
      {"w":3.02,"t":1.57},{"w":3.02,"t":0.92},{"w":3.1,"t":1.55},{"w":3.1,"t":0.9},{"w":3.18,"t":1.47},{"w":3.18,"t":0.85},
      {"w":3.26,"t":1.27},{"w":3.26,"t":0.72},{"w":3.34,"t":0.96},{"w":3.34,"t":0.52},{"w":3.42,"t":0.63},{"w":3.42,"t":0.33},
      {"w":3.5,"t":0.37},{"w":3.5,"t":0.19},{"w":3.58,"t":0.215},{"w":3.58,"t":0.11},{"w":3.66,"t":0.132},{"w":3.66,"t":0.069},
      {"w":3.74,"t":0.1},{"w":3.74,"t":0.048},{"w":3.82,"t":0.093},{"w":3.82,"t":0.037},{"w":3.9,"t":0.086},{"w":3.9,"t":0.032},
      {"w":3.98,"t":0.083},{"w":3.98,"t":0.031},{"w":4.06,"t":0.093},{"w":4.06,"t":0.037},{"w":4.14,"t":0.118},{"w":4.14,"t":0.05},
      {"w":4.22,"t":0.196},{"w":4.22,"t":0.078},{"w":4.3,"t":0.333},{"w":4.3,"t":0.156},{"w":4.38,"t":0.53},{"w":4.38,"t":0.26},
      {"w":4.46,"t":0.67},{"w":4.46,"t":0.34},{"w":4.54,"t":0.76},{"w":4.54,"t":0.4},{"w":4.62,"t":0.8},{"w":4.62,"t":0.42},
      {"w":4.7,"t":0.7},{"w":4.7,"t":0.39}
    ],
    "aft": [
      {"w":0.21,"t":0.0029},{"w":0.22,"t":0.0024},{"w":0.29,"t":0.0025},{"w":0.31,"t":0.0028},{"w":0.44,"t":0.0041},{"w":0.45,"t":0.0047},
      {"w":0.47,"t":0.0044},{"w":0.48,"t":0.002},{"w":0.5,"t":0.0019},{"w":0.52,"t":0.0055},{"w":0.55,"t":0.006},{"w":0.58,"t":0.0057},
      {"w":0.61,"t":0.0062},{"w":0.64,"t":0.0058},{"w":0.67,"t":0.0042},{"w":0.7,"t":0.0061},{"w":0.73,"t":0.0064},{"w":0.76,"t":0.003},
      {"w":0.86,"t":0.0048},{"w":0.88,"t":0.005},{"w":0.9,"t":0.0068},{"w":0.98,"t":0.0083},{"w":1.0,"t":0.0069},
      {"w":0.76,"t":0.0075},{"w":0.76,"t":0.0064},{"w":0.76,"t":0.0055},{"w":0.78,"t":0.0074},{"w":0.78,"t":0.0063},
      {"w":0.8,"t":0.0085},{"w":0.8,"t":0.0072},{"w":0.8,"t":0.006},{"w":0.82,"t":0.0084},{"w":0.82,"t":0.0069},
      {"w":0.84,"t":0.01},{"w":0.84,"t":0.008},{"w":0.84,"t":0.0065},{"w":0.86,"t":0.0102},{"w":0.86,"t":0.008},
      {"w":0.88,"t":0.013},{"w":0.88,"t":0.0098},{"w":0.88,"t":0.0075},{"w":0.9,"t":0.013},{"w":0.9,"t":0.0097},
      {"w":0.92,"t":0.017},{"w":0.92,"t":0.0124},{"w":0.92,"t":0.009},{"w":0.94,"t":0.0176},{"w":0.94,"t":0.0126},
      {"w":0.96,"t":0.024},{"w":0.96,"t":0.017},{"w":0.96,"t":0.012},{"w":0.98,"t":0.0248},{"w":0.98,"t":0.0175},
      {"w":1.0,"t":0.034},{"w":1.0,"t":0.024},{"w":1.0,"t":0.017},{"w":1.02,"t":0.034},{"w":1.02,"t":0.024},
      {"w":1.04,"t":0.046},{"w":1.04,"t":0.032},{"w":1.04,"t":0.023},{"w":1.06,"t":0.045},{"w":1.06,"t":0.0318},
      {"w":1.08,"t":0.06},{"w":1.08,"t":0.042},{"w":1.08,"t":0.03},{"w":1.1,"t":0.057},{"w":1.1,"t":0.0408},
      {"w":1.12,"t":0.074},{"w":1.12,"t":0.053},{"w":1.12,"t":0.038},{"w":1.14,"t":0.0698},{"w":1.14,"t":0.0503},
      {"w":1.16,"t":0.088},{"w":1.16,"t":0.064},{"w":1.16,"t":0.046},{"w":1.18,"t":0.0825},{"w":1.18,"t":0.06},
      {"w":1.2,"t":0.103},{"w":1.2,"t":0.075},{"w":1.2,"t":0.055},{"w":1.22,"t":0.096},{"w":1.22,"t":0.0695},
      {"w":1.24,"t":0.12},{"w":1.24,"t":0.086},{"w":1.24,"t":0.062},{"w":1.26,"t":0.1115},{"w":1.26,"t":0.0795},
      {"w":1.28,"t":0.14},{"w":1.28,"t":0.1},{"w":1.28,"t":0.07},{"w":1.3,"t":0.124},{"w":1.3,"t":0.0878},
      {"w":1.32,"t":0.15},{"w":1.32,"t":0.106},{"w":1.32,"t":0.075},{"w":1.34,"t":0.125},{"w":1.34,"t":0.0883},
      {"w":1.36,"t":0.145},{"w":1.36,"t":0.1},{"w":1.36,"t":0.072},{"w":1.38,"t":0.121},{"w":1.38,"t":0.0845},
      {"w":1.4,"t":0.14},{"w":1.4,"t":0.098},{"w":1.4,"t":0.068},{"w":1.42,"t":0.117},{"w":1.42,"t":0.0818},
      {"w":1.44,"t":0.136},{"w":1.44,"t":0.095},{"w":1.44,"t":0.066},{"w":1.46,"t":0.114},{"w":1.46,"t":0.0798},
      {"w":1.48,"t":0.133},{"w":1.48,"t":0.093},{"w":1.48,"t":0.065},{"w":1.5,"t":0.112},{"w":1.5,"t":0.078},
      {"w":1.52,"t":0.13},{"w":1.52,"t":0.091},{"w":1.52,"t":0.064},{"w":1.54,"t":0.11},{"w":1.54,"t":0.0773},
      {"w":1.56,"t":0.128},{"w":1.56,"t":0.09},{"w":1.56,"t":0.064},{"w":1.58,"t":0.108},{"w":1.58,"t":0.0765},
      {"w":1.6,"t":0.125},{"w":1.6,"t":0.089},{"w":1.6,"t":0.063},{"w":1.62,"t":0.106},{"w":1.62,"t":0.0758},
      {"w":1.64,"t":0.122},{"w":1.64,"t":0.088},{"w":1.64,"t":0.063},{"w":1.66,"t":0.104},{"w":1.66,"t":0.0753},
      {"w":1.68,"t":0.12},{"w":1.68,"t":0.087},{"w":1.68,"t":0.063},{"w":1.7,"t":0.1025},{"w":1.7,"t":0.0748},
      {"w":1.72,"t":0.117},{"w":1.72,"t":0.086},{"w":1.72,"t":0.063},{"w":1.74,"t":0.1003},{"w":1.74,"t":0.0745},
      {"w":1.76,"t":0.113},{"w":1.76,"t":0.085},{"w":1.76,"t":0.064},{"w":1.78,"t":0.098},{"w":1.78,"t":0.0743},
      {"w":1.8,"t":0.11},{"w":1.8,"t":0.084},{"w":1.8,"t":0.064},{"w":1.82,"t":0.0955},{"w":1.82,"t":0.074},
      {"w":1.84,"t":0.105},{"w":1.84,"t":0.083},{"w":1.84,"t":0.065},{"w":1.86,"t":0.0923},{"w":1.86,"t":0.0738},
      {"w":1.88,"t":0.1},{"w":1.88,"t":0.081},{"w":1.88,"t":0.066},{"w":1.9,"t":0.089},{"w":1.9,"t":0.0738},
      {"w":1.92,"t":0.095},{"w":1.92,"t":0.08},{"w":1.92,"t":0.068},
      {"w":1.18,"t":0.018},{"w":1.2,"t":0.016},{"w":1.3,"t":0.024},{"w":1.34,"t":0.019},{"w":1.36,"t":0.022},{"w":1.4,"t":0.02},
      {"w":1.5,"t":0.021},{"w":1.54,"t":0.024},{"w":1.58,"t":0.025},{"w":1.62,"t":0.027},{"w":1.68,"t":0.029},{"w":1.72,"t":0.031},
      {"w":1.78,"t":0.032},{"w":1.82,"t":0.034},{"w":1.88,"t":0.036},{"w":1.94,"t":0.04},{"w":1.98,"t":0.042},{"w":2.0,"t":0.038},
      {"w":2.04,"t":0.044},{"w":2.1,"t":0.047},{"w":2.16,"t":0.05},{"w":2.22,"t":0.054},{"w":2.28,"t":0.06},
      {"w":2.3,"t":0.065},{"w":2.3,"t":0.057},{"w":2.3,"t":0.05},{"w":2.32,"t":0.067},{"w":2.32,"t":0.059},
      {"w":2.34,"t":0.078},{"w":2.34,"t":0.068},{"w":2.34,"t":0.06},{"w":2.36,"t":0.081},{"w":2.36,"t":0.071},
      {"w":2.38,"t":0.095},{"w":2.38,"t":0.083},{"w":2.38,"t":0.072},{"w":2.4,"t":0.1},{"w":2.4,"t":0.087},
      {"w":2.42,"t":0.12},{"w":2.42,"t":0.104},{"w":2.42,"t":0.09},{"w":2.44,"t":0.131},{"w":2.44,"t":0.113},
      {"w":2.46,"t":0.16},{"w":2.46,"t":0.139},{"w":2.46,"t":0.12},{"w":2.48,"t":0.177},{"w":2.48,"t":0.152},
      {"w":2.5,"t":0.22},{"w":2.5,"t":0.188},{"w":2.5,"t":0.16},{"w":2.52,"t":0.236},{"w":2.52,"t":0.201},
      {"w":2.54,"t":0.29},{"w":2.54,"t":0.247},{"w":2.54,"t":0.21},{"w":2.56,"t":0.314},{"w":2.56,"t":0.267},
      {"w":2.58,"t":0.39},{"w":2.58,"t":0.33},{"w":2.58,"t":0.28},{"w":2.6,"t":0.41},{"w":2.6,"t":0.348},
      {"w":2.62,"t":0.5},{"w":2.62,"t":0.42},{"w":2.62,"t":0.36},{"w":2.64,"t":0.533},{"w":2.64,"t":0.448},
      {"w":2.66,"t":0.66},{"w":2.66,"t":0.55},{"w":2.66,"t":0.46},{"w":2.68,"t":0.69},{"w":2.68,"t":0.573},
      {"w":2.7,"t":0.85},{"w":2.7,"t":0.7},{"w":2.7,"t":0.58},{"w":2.72,"t":0.865},{"w":2.72,"t":0.71},
      {"w":2.74,"t":1.05},{"w":2.74,"t":0.86},{"w":2.74,"t":0.7},{"w":2.76,"t":1.043},{"w":2.76,"t":0.848},
      {"w":2.78,"t":1.25},{"w":2.78,"t":1.01},{"w":2.78,"t":0.82},{"w":2.8,"t":1.195},{"w":2.8,"t":0.963},
      {"w":2.82,"t":1.4},{"w":2.82,"t":1.12},{"w":2.82,"t":0.9},{"w":2.84,"t":1.303},{"w":2.84,"t":1.04},
      {"w":2.86,"t":1.5},{"w":2.86,"t":1.19},{"w":2.86,"t":0.95},{"w":2.88,"t":1.383},{"w":2.88,"t":1.1},
      {"w":2.9,"t":1.58},{"w":2.9,"t":1.26},{"w":2.9,"t":1.0},{"w":2.92,"t":1.438},{"w":2.92,"t":1.143},
      {"w":2.94,"t":1.62},{"w":2.94,"t":1.29},{"w":2.94,"t":1.02},{"w":2.96,"t":1.455},{"w":2.96,"t":1.155},
      {"w":2.98,"t":1.62},{"w":2.98,"t":1.29},{"w":2.98,"t":1.02},{"w":3.0,"t":1.443},{"w":3.0,"t":1.143},
      {"w":3.02,"t":1.6},{"w":3.02,"t":1.26},{"w":3.02,"t":1.0},{"w":3.04,"t":1.43},{"w":3.04,"t":1.13},
      {"w":3.06,"t":1.6},{"w":3.06,"t":1.26},{"w":3.06,"t":1.0},{"w":3.08,"t":1.42},{"w":3.08,"t":1.12},
      {"w":3.1,"t":1.58},{"w":3.1,"t":1.24},{"w":3.1,"t":0.98},{"w":3.12,"t":1.398},{"w":3.12,"t":1.1},
      {"w":3.14,"t":1.55},{"w":3.14,"t":1.22},{"w":3.14,"t":0.96},{"w":3.16,"t":1.36},{"w":3.16,"t":1.068},
      {"w":3.18,"t":1.5},{"w":3.18,"t":1.17},{"w":3.18,"t":0.92},{"w":3.2,"t":1.298},{"w":3.2,"t":1.013},
      {"w":3.22,"t":1.42},{"w":3.22,"t":1.1},{"w":3.22,"t":0.86},{"w":3.24,"t":1.205},{"w":3.24,"t":0.935},
      {"w":3.26,"t":1.3},{"w":3.26,"t":1.0},{"w":3.26,"t":0.78},{"w":3.28,"t":1.083},{"w":3.28,"t":0.835},
      {"w":3.3,"t":1.15},{"w":3.3,"t":0.88},{"w":3.3,"t":0.68},{"w":3.32,"t":0.94},{"w":3.32,"t":0.72},
      {"w":3.34,"t":0.98},{"w":3.34,"t":0.75},{"w":3.34,"t":0.57},{"w":3.36,"t":0.785},{"w":3.36,"t":0.598},
      {"w":3.38,"t":0.8},{"w":3.38,"t":0.61},{"w":3.38,"t":0.46},{"w":3.4,"t":0.633},{"w":3.4,"t":0.478},
      {"w":3.42,"t":0.64},{"w":3.42,"t":0.48},{"w":3.42,"t":0.36},{"w":3.44,"t":0.498},{"w":3.44,"t":0.373},
      {"w":3.46,"t":0.5},{"w":3.46,"t":0.37},{"w":3.46,"t":0.28},{"w":3.48,"t":0.383},{"w":3.48,"t":0.285},
      {"w":3.5,"t":0.38},{"w":3.5,"t":0.28},{"w":3.5,"t":0.21},{"w":3.52,"t":0.291},{"w":3.52,"t":0.216},
      {"w":3.54,"t":0.29},{"w":3.54,"t":0.215},{"w":3.54,"t":0.16},{"w":3.56,"t":0.222},{"w":3.56,"t":0.164},
      {"w":3.58,"t":0.22},{"w":3.58,"t":0.162},{"w":3.58,"t":0.12},{"w":3.6,"t":0.17},{"w":3.6,"t":0.126},
      {"w":3.62,"t":0.17},{"w":3.62,"t":0.127},{"w":3.62,"t":0.095},{"w":3.64,"t":0.133},{"w":3.64,"t":0.099},
      {"w":3.66,"t":0.135},{"w":3.66,"t":0.1},{"w":3.66,"t":0.075},{"w":3.68,"t":0.109},{"w":3.68,"t":0.08},
      {"w":3.7,"t":0.115},{"w":3.7,"t":0.085},{"w":3.7,"t":0.062},{"w":3.72,"t":0.095},{"w":3.72,"t":0.068},
      {"w":3.74,"t":0.105},{"w":3.74,"t":0.074},{"w":3.74,"t":0.052},{"w":3.76,"t":0.086},{"w":3.76,"t":0.059},
      {"w":3.78,"t":0.1},{"w":3.78,"t":0.075},{"w":3.78,"t":0.058},{"w":3.78,"t":0.045},{"w":3.8,"t":0.08},{"w":3.8,"t":0.053},
      {"w":3.82,"t":0.095},{"w":3.82,"t":0.07},{"w":3.82,"t":0.053},{"w":3.82,"t":0.04},{"w":3.84,"t":0.076},{"w":3.84,"t":0.049},
      {"w":3.86,"t":0.09},{"w":3.86,"t":0.066},{"w":3.86,"t":0.05},{"w":3.86,"t":0.037},{"w":3.88,"t":0.073},{"w":3.88,"t":0.0465},
      {"w":3.9,"t":0.088},{"w":3.9,"t":0.064},{"w":3.9,"t":0.048},{"w":3.9,"t":0.035},{"w":3.92,"t":0.071},{"w":3.92,"t":0.045},
      {"w":3.94,"t":0.085},{"w":3.94,"t":0.062},{"w":3.94,"t":0.046},{"w":3.94,"t":0.034},{"w":3.96,"t":0.0695},{"w":3.96,"t":0.044},
      {"w":3.98,"t":0.085},{"w":3.98,"t":0.062},{"w":3.98,"t":0.046},{"w":3.98,"t":0.034},{"w":4.0,"t":0.071},{"w":4.0,"t":0.045},
      {"w":4.02,"t":0.088},{"w":4.02,"t":0.064},{"w":4.02,"t":0.048},{"w":4.02,"t":0.036},{"w":4.04,"t":0.075},{"w":4.04,"t":0.048},
      {"w":4.06,"t":0.095},{"w":4.06,"t":0.07},{"w":4.06,"t":0.052},{"w":4.06,"t":0.04},{"w":4.08,"t":0.082},{"w":4.08,"t":0.0535},
      {"w":4.1,"t":0.105},{"w":4.1,"t":0.078},{"w":4.1,"t":0.058},{"w":4.1,"t":0.045},{"w":4.12,"t":0.0935},{"w":4.12,"t":0.062},
      {"w":4.14,"t":0.12},{"w":4.14,"t":0.081},{"w":4.14,"t":0.055},{"w":4.16,"t":0.113},{"w":4.16,"t":0.0755},
      {"w":4.18,"t":0.15},{"w":4.18,"t":0.1},{"w":4.18,"t":0.066},{"w":4.2,"t":0.145},{"w":4.2,"t":0.095},
      {"w":4.22,"t":0.2},{"w":4.22,"t":0.13},{"w":4.22,"t":0.085},{"w":4.24,"t":0.193},{"w":4.24,"t":0.129},
      {"w":4.26,"t":0.26},{"w":4.26,"t":0.18},{"w":4.26,"t":0.12},{"w":4.28,"t":0.255},{"w":4.28,"t":0.178},
      {"w":4.3,"t":0.34},{"w":4.3,"t":0.24},{"w":4.3,"t":0.17},{"w":4.32,"t":0.333},{"w":4.32,"t":0.235},
      {"w":4.34,"t":0.44},{"w":4.34,"t":0.31},{"w":4.34,"t":0.22},{"w":4.36,"t":0.42},{"w":4.36,"t":0.3},
      {"w":4.38,"t":0.54},{"w":4.38,"t":0.39},{"w":4.38,"t":0.28},{"w":4.4,"t":0.5},{"w":4.4,"t":0.3625},
      {"w":4.42,"t":0.62},{"w":4.42,"t":0.45},{"w":4.42,"t":0.33},{"w":4.44,"t":0.5625},{"w":4.44,"t":0.4125},
      {"w":4.46,"t":0.68},{"w":4.46,"t":0.5},{"w":4.46,"t":0.37},{"w":4.48,"t":0.615},{"w":4.48,"t":0.4525},
      {"w":4.5,"t":0.74},{"w":4.5,"t":0.54},{"w":4.5,"t":0.4},{"w":4.52,"t":0.66},{"w":4.52,"t":0.4875},
      {"w":4.54,"t":0.78},{"w":4.54,"t":0.58},{"w":4.54,"t":0.43},{"w":4.56,"t":0.69},{"w":4.56,"t":0.515},
      {"w":4.58,"t":0.8},{"w":4.58,"t":0.6},{"w":4.58,"t":0.45},{"w":4.6,"t":0.7075},{"w":4.6,"t":0.53},
      {"w":4.62,"t":0.82},{"w":4.62,"t":0.61},{"w":4.62,"t":0.46},{"w":4.64,"t":0.7075},{"w":4.64,"t":0.53},
      {"w":4.66,"t":0.8},{"w":4.66,"t":0.6},{"w":4.66,"t":0.45},{"w":4.68,"t":0.6675},{"w":4.68,"t":0.505},
      {"w":4.7,"t":0.72},{"w":4.7,"t":0.55},{"w":4.7,"t":0.42},{"w":4.72,"t":0.595},{"w":4.72,"t":0.46},
      {"w":4.74,"t":0.62},{"w":4.74,"t":0.49},{"w":4.74,"t":0.38},
      {"w":3.9,"t":0.03},{"w":3.96,"t":0.035},{"w":4.04,"t":0.032},{"w":4.1,"t":0.04},{"w":4.44,"t":0.087},{"w":4.46,"t":0.12},{"w":4.42,"t":0.16}
    ]
  },
  "vconcat": [
    {
      "hconcat": [
        {
          "width": 363,
          "height": 308,
          "view": {"stroke": "#111", "strokeWidth": 1.3},
          "data": {"name": "bands"},
          "layer": [
            {
              "mark": {"type": "line", "interpolate": "monotone", "strokeWidth": 1.8},
              "encoding": {
                "x": {"field": "k", "type": "quantitative", "scale": {"domain": [0, 3.281], "nice": false, "zero": false},
                  "axis": {"values": [0, 1, 1.354, 2.415, 3.281], "labelExpr": "datum.value == 0 ? 'Γ' : datum.value == 1 ? 'X' : datum.value == 1.354 ? 'U|K' : datum.value == 2.415 ? 'Γ' : 'L'", "grid": true, "gridColor": "#111", "gridWidth": 1.1, "gridOpacity": 1, "ticks": false, "domain": false, "labelFontSize": 30, "labelPadding": 1, "title": null}},
                "y": {"field": "d", "type": "quantitative", "scale": {"domain": [0, 5], "nice": false},
                  "axis": {"values": [0, 1, 2, 3, 4, 5], "format": "d", "ticks": false, "domain": false, "labelFontSize": 28, "labelPadding": 5, "labelFlush": false, "title": "Frequency (THz)", "titleFontSize": 32, "titlePadding": 8}},
                "color": {"datum": "DFT", "type": "nominal", "scale": {"domain": ["DFT", "MLIP before 𝒜ℒ", "MLIP after 𝒜ℒ"], "range": ["#000000", "#F7A21B", "#FF0000"]},
                  "legend": {"orient": "none", "legendX": -77, "legendY": 339, "direction": "horizontal", "title": null, "symbolType": "stroke", "symbolSize": 900, "symbolStrokeWidth": 2, "labelFontSize": 22, "labelOffset": 4, "columnPadding": 20, "padding": 0}},
                "strokeDash": {"datum": "DFT", "type": "nominal", "scale": {"domain": ["DFT", "MLIP before 𝒜ℒ", "MLIP after 𝒜ℒ"], "range": [[1, 0], [6, 3], [6, 3]]},
                  "legend": {"orient": "none", "legendX": -77, "legendY": 339, "direction": "horizontal", "title": null, "symbolType": "stroke", "symbolSize": 900, "symbolStrokeWidth": 2, "labelFontSize": 22, "labelOffset": 4, "columnPadding": 20, "padding": 0}},
                "detail": [{"field": "s"}, {"field": "r"}]
              }
            },
            {
              "mark": {"type": "line", "interpolate": "monotone", "strokeWidth": 1.8},
              "encoding": {
                "x": {"field": "k", "type": "quantitative"},
                "y": {"field": "b", "type": "quantitative", "title": "Frequency (THz)"},
                "color": {"datum": "MLIP before 𝒜ℒ", "type": "nominal"},
                "strokeDash": {"datum": "MLIP before 𝒜ℒ", "type": "nominal"},
                "detail": [{"field": "s"}, {"field": "r"}]
              }
            },
            {
              "mark": {"type": "line", "interpolate": "monotone", "strokeWidth": 1.8},
              "encoding": {
                "x": {"field": "k", "type": "quantitative"},
                "y": {"field": "a", "type": "quantitative", "title": "Frequency (THz)"},
                "color": {"datum": "MLIP after 𝒜ℒ", "type": "nominal"},
                "strokeDash": {"datum": "MLIP after 𝒜ℒ", "type": "nominal"},
                "detail": [{"field": "s"}, {"field": "r"}]
              }
            },
            {
              "data": {"values": [{"s": "(a)"}]},
              "mark": {"type": "text", "align": "left", "baseline": "middle", "fontSize": 36, "font": "Liberation Sans"},
              "encoding": {"x": {"datum": -0.8586}, "y": {"datum": 4.95}, "text": {"field": "s"}}
            },
            {
              "data": {"values": [{"s": "CuI"}]},
              "mark": {"type": "text", "align": "right", "baseline": "alphabetic", "fontSize": 32, "font": "Open Sans", "fontWeight": "bold"},
              "encoding": {"x": {"datum": 3.218}, "y": {"datum": 0.11}, "text": {"field": "s"}}
            }
          ]
        },
        {
          "width": 54,
          "height": 308,
          "view": {"stroke": "#777", "strokeWidth": 2},
          "data": {"name": "dos"},
          "layer": [
            {
              "mark": {"type": "area", "orient": "horizontal", "color": "#555555", "opacity": 0.9},
              "encoding": {
                "y": {"field": "f", "type": "quantitative", "scale": {"domain": [0, 5], "nice": false}, "axis": null},
                "x": {"field": "d", "type": "quantitative", "stack": null, "scale": {"domain": [-2.5, 52], "nice": false, "zero": false},
                  "axis": {"title": "DOS", "titleFontSize": 23, "labels": false, "ticks": false, "domain": false, "titlePadding": 3}}
              }
            },
            {
              "mark": {"type": "area", "orient": "horizontal", "color": "#F5A020", "opacity": 0.95},
              "encoding": {
                "y": {"field": "f", "type": "quantitative"},
                "x": {"field": "b", "type": "quantitative", "stack": null, "title": "DOS"}
              }
            },
            {
              "mark": {"type": "area", "orient": "horizontal", "color": "#DF4A1F", "opacity": 0.95},
              "encoding": {
                "y": {"field": "f", "type": "quantitative"},
                "x": {"field": "a", "type": "quantitative", "stack": null, "title": "DOS"}
              }
            }
          ]
        }
      ],
      "spacing": 6,
      "bounds": "flush"
    },
    {
      "hconcat": [
        {
          "width": 18,
          "height": 10,
          "data": {"values": []},
          "mark": {"type": "point", "opacity": 0}
        },
        {
          "width": 417,
          "height": 276,
          "view": {"stroke": "#666", "strokeWidth": 1.5},
          "layer": [
            {
              "data": {"name": "ref"},
              "mark": {"type": "line", "color": "#888888", "strokeWidth": 3.2, "interpolate": "monotone", "clip": true},
              "encoding": {
                "x": {"field": "w", "type": "quantitative", "scale": {"domain": [0, 5], "nice": false},
                  "axis": {"values": [0, 1, 2, 3, 4, 5], "format": "d", "labelFontSize": 30, "labelFlush": false, "ticks": false, "labelPadding": 8, "title": "ω (THz)", "titleFontSize": 30, "titlePadding": 0, "domainColor": "#444"}},
                "y": {"field": "t", "type": "quantitative", "scale": {"type": "log", "domain": [0.001, 10], "nice": false},
                  "axis": {"values": [0.001, 0.002, 0.003, 0.004, 0.005, 0.006, 0.007, 0.008, 0.009, 0.01, 0.02, 0.03, 0.04, 0.05, 0.06, 0.07, 0.08, 0.09, 0.1, 0.2, 0.3, 0.4, 0.5, 0.6, 0.7, 0.8, 0.9, 1, 2, 3, 4, 5, 6, 7, 8, 9, 10],
                    "labelExpr": "datum.value == 10 ? '10¹' : datum.value == 1 ? '10⁰' : datum.value == 0.1 ? '10⁻¹' : datum.value == 0.01 ? '10⁻²' : datum.value == 0.001 ? '10⁻³' : ''",
                    "labelOverlap": false, "labelFlush": false, "labelFontSize": 30, "labelPadding": 6,
                    "tickSize": {"condition": {"test": "abs(log(datum.value) / LN10 - round(log(datum.value) / LN10)) < 0.001", "value": -7}, "value": -4},
                    "title": "τ⁻¹ (ps⁻¹)", "titleFontSize": 30, "titlePadding": 6, "domainColor": "#444"}}
              }
            },
            {
              "data": {"name": "dft"},
              "mark": {"type": "point", "shape": "circle", "filled": false, "size": 80, "strokeWidth": 1.3, "opacity": 1, "clip": true},
              "encoding": {
                "x": {"field": "w", "type": "quantitative"},
                "y": {"field": "t", "type": "quantitative"},
                "stroke": {"datum": "DFT", "type": "nominal", "scale": {"domain": ["DFT", "MLIP after 𝒜ℒ"], "range": ["#000000", "#FF0000"]},
                  "legend": {"orient": "none", "legendX": 145, "legendY": 667, "direction": "horizontal", "title": null, "symbolType": "circle", "symbolSize": 80, "symbolStrokeWidth": 1.2, "labelFontSize": 23, "labelOffset": 17, "columnPadding": -18, "padding": 0}}
              }
            },
            {
              "data": {"name": "bef"},
              "mark": {"type": "point", "shape": "circle", "filled": false, "size": 80, "strokeWidth": 1.3, "opacity": 1, "color": "#EE9E2E", "clip": true},
              "encoding": {
                "x": {"field": "w", "type": "quantitative"},
                "y": {"field": "t", "type": "quantitative"},
                "shape": {"datum": "MLIP before 𝒜ℒ", "type": "nominal", "scale": {"domain": ["MLIP before 𝒜ℒ"], "range": ["circle"]},
                  "legend": {"orient": "none", "legendX": 221, "legendY": 630, "direction": "horizontal", "title": null, "symbolSize": 80, "symbolStrokeWidth": 1.2, "symbolStrokeColor": "#EE9E2E", "symbolFillColor": "transparent", "labelFontSize": 23, "labelOffset": 17, "padding": 0}}
              }
            },
            {
              "data": {"name": "aft"},
              "mark": {"type": "point", "shape": "circle", "filled": false, "size": 80, "strokeWidth": 1.3, "opacity": 1, "clip": true},
              "encoding": {
                "x": {"field": "w", "type": "quantitative"},
                "y": {"field": "t", "type": "quantitative"},
                "stroke": {"datum": "MLIP after 𝒜ℒ", "type": "nominal"}
              }
            },
            {
              "data": {"values": [{"s": "(b)"}]},
              "mark": {"type": "text", "align": "left", "baseline": "middle", "fontSize": 36, "font": "Liberation Sans"},
              "encoding": {"x": {"datum": -1.427}, "y": {"datum": 11.8}, "text": {"field": "s"}}
            },
            {
              "data": {"values": [{"s": "CuI"}]},
              "mark": {"type": "text", "align": "left", "baseline": "alphabetic", "fontSize": 32, "font": "Open Sans", "fontWeight": "bold"},
              "encoding": {"x": {"datum": 0.06}, "y": {"datum": 3.2}, "text": {"field": "s"}}
            }
          ]
        }
      ],
      "spacing": 6,
      "bounds": "flush"
    }
  ],
  "spacing": 54
}
